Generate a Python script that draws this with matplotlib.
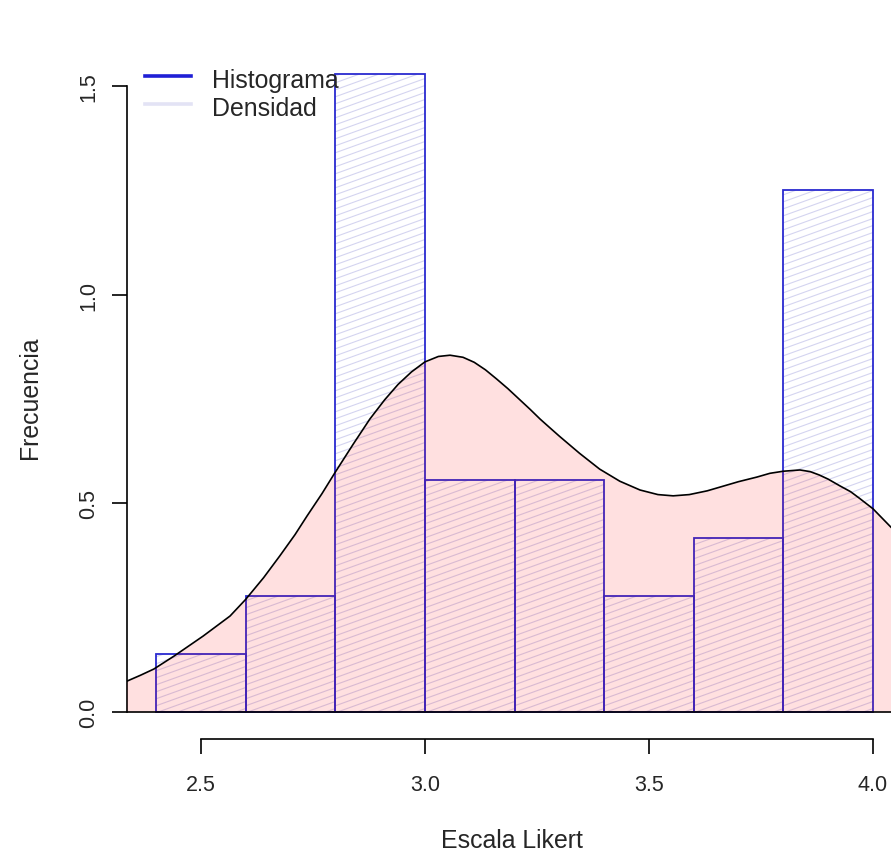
import numpy as np
import matplotlib
matplotlib.use("Agg")
import matplotlib.pyplot as plt
from matplotlib.collections import LineCollection
from matplotlib.lines import Line2D

plt.rcParams['font.family'] = ['Liberation Sans', 'DejaVu Sans']

# histogram bins (Likert scale) and counts per bin
bin_edges = [2.4, 2.6, 2.8, 3.0, 3.2, 3.4, 3.6, 3.8, 4.0]
counts = [1, 2, 11, 4, 4, 2, 3, 9]

# kernel density estimate
dens_x = [2.335, 2.365, 2.395, 2.44, 2.505, 2.565, 2.60, 2.64, 2.676, 2.71,
          2.737, 2.77, 2.80, 2.84, 2.877, 2.91, 2.94, 2.97, 3.00, 3.03,
          3.056, 3.085, 3.11, 3.135, 3.16, 3.185, 3.21, 3.235, 3.257, 3.28,
          3.30, 3.345, 3.39, 3.435, 3.48, 3.52, 3.554, 3.59, 3.63, 3.665,
          3.70, 3.741, 3.77, 3.80, 3.837, 3.86, 3.88, 3.90, 3.926, 3.95,
          3.97, 4.00, 4.04]
dens_y = [0.074, 0.088, 0.103, 0.134, 0.182, 0.230, 0.270, 0.322, 0.374, 0.425,
          0.470, 0.523, 0.575, 0.642, 0.702, 0.748, 0.785, 0.815, 0.839, 0.852,
          0.855, 0.850, 0.838, 0.820, 0.798, 0.775, 0.750, 0.725, 0.702, 0.680,
          0.661, 0.620, 0.582, 0.553, 0.532, 0.521, 0.518, 0.521, 0.530, 0.541,
          0.552, 0.563, 0.572, 0.577, 0.580, 0.576, 0.568, 0.558, 0.542, 0.528,
          0.512, 0.487, 0.443]

x_ticks = [2.5, 3.0, 3.5, 4.0]
y_ticks = [0.0, 0.5, 1.0, 1.5]
legend_labels = ['Histograma', 'Densidad']

n_obs = sum(counts)
widths = np.diff(bin_edges)
heights = np.array(counts) / (n_obs * widths)

W, H = 891, 854
fig = plt.figure(figsize=(W / 100, H / 100), dpi=100)
ax = fig.add_axes([127 / W, (H - 740) / H, 764 / W, 690 / H])
ax.set_xlim(2.335, 4.0402)
ax.set_ylim(-0.0647, 1.5888)

text_col = '#262626'
edge_col = '#2a2ad0'

bars = ax.bar(bin_edges[:-1], heights, width=widths, align='edge',
              facecolor='none', edgecolor=edge_col, linewidth=1.3, zorder=2)

# shallow diagonal shading lines inside each bar, cut at the bar outline
slope = 0.36 * (448 / 417.3)
step = 7 / 417.3
for patch in bars.patches:
    x0 = patch.get_x()
    w = patch.get_width()
    h = patch.get_height()
    segs = []
    for c in np.arange(-slope * w + step / 2, h, step):
        xa = max(0.0, -c / slope)
        xb = min(w, (h - c) / slope)
        if xb > xa:
            segs.append([(x0 + xa, c + slope * xa), (x0 + xb, c + slope * xb)])
    ax.add_collection(LineCollection(segs, colors='#d4d4f0', linewidths=0.8,
                                     zorder=1))

# density polygon
ax.fill_between(dens_x, 0, dens_y, color=(1, 0, 0), alpha=0.12,
                linewidth=0, zorder=3)
ax.plot(dens_x, dens_y, color='black', linewidth=1.2, zorder=4)
ax.axhline(0, color='black', linewidth=1.2, zorder=4)

# axes in base-graphics style
for side in ['top', 'right']:
    ax.spines[side].set_visible(False)
ax.spines['left'].set_bounds(0, 1.5)
ax.spines['bottom'].set_bounds(2.5, 4.0)
for side in ['left', 'bottom']:
    ax.spines[side].set_linewidth(1.2)
    ax.spines[side].set_color('black')
ax.set_xticks(x_ticks)
ax.set_xticklabels([f'{v:.1f}' for v in x_ticks])
ax.set_yticks(y_ticks)
ax.set_yticklabels([f'{v:.1f}' for v in y_ticks], rotation=90, va='center')
ax.tick_params(axis='both', direction='out', length=11, width=1.2,
               labelsize=15.5, labelcolor=text_col)
ax.tick_params(axis='x', pad=14)
ax.tick_params(axis='y', pad=9)

ax.set_xlabel('Escala Likert', fontsize=17.9, color=text_col, va='center')
ax.xaxis.set_label_coords(0.504, -0.146)
ax.set_ylabel('Frecuencia', fontsize=17.9, color=text_col, va='center')
ax.yaxis.set_label_coords(-0.127, 0.496)

# legend without a box
leg_colors = ['#1f1fd6', '#e3e3f5']
leg_y = [0.961, 0.921]
for lab, col, yy in zip(legend_labels, leg_colors, leg_y):
    ax.add_line(Line2D([0.0236, 0.0838], [yy, yy], transform=ax.transAxes,
                       color=col, linewidth=2.6, clip_on=False, zorder=5))
    ax.text(0.111, yy - 0.006, lab, transform=ax.transAxes, fontsize=17.9,
            color=text_col, va='center', ha='left', zorder=5)

fig.savefig('out.png', dpi=100)
